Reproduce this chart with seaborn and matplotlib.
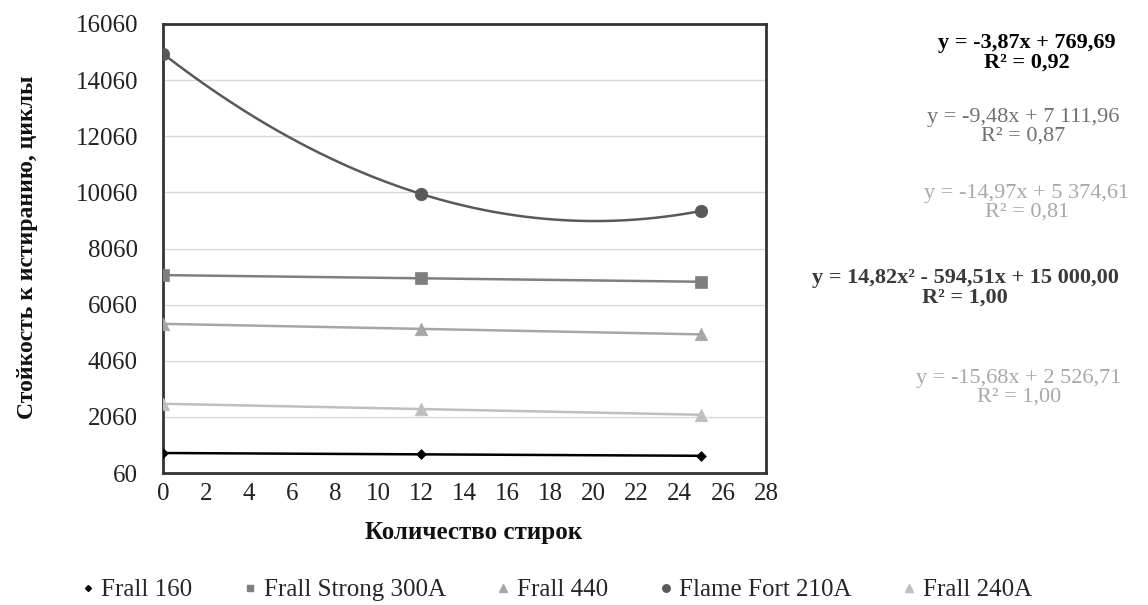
import numpy as np
import pandas as pd
import matplotlib
matplotlib.use("Agg")
import matplotlib.pyplot as plt
from matplotlib.lines import Line2D
import seaborn as sns

# Measured abrasion resistance (cycles) after a number of washes
washes = [0, 12, 25]
frall_160 = [775, 720, 675]
frall_strong_300a = [7112, 6998, 6875]
frall_440 = [5375, 5195, 5000]
flame_fort_210a = [15000, 10000, 9400]
frall_240a = [2527, 2338, 2135]

series_names = ["Frall 160", "Frall Strong 300A", "Frall 440", "Flame Fort 210A", "Frall 240A"]
series_values = [frall_160, frall_strong_300a, frall_440, flame_fort_210a, frall_240a]
series_colors = ["#000000", "#7f7f7f", "#a6a6a6", "#595959", "#bfbfbf"]
series_markers = ["D", "s", "^", "o", "^"]
marker_sizes = [5, 8, 9, 9, 9]
trend_degree = [1, 1, 1, 2, 1]

trend_labels = [
    "y = -3,87x + 769,69\nR² = 0,92",
    "y = -9,48x + 7 111,96\nR² = 0,87",
    "y = -14,97x + 5 374,61\nR² = 0,81",
    "y = 14,82x² - 594,51x + 15 000,00\nR² = 1,00",
    "y = -15,68x + 2 526,71\nR² = 1,00",
]
label_colors = ["#000000", "#707070", "#a8a8a8", "#3a3a3a", "#a8a8a8"]
label_weights = ["bold", "normal", "normal", "bold", "normal"]
label_pos = [(1027, 53), (1023, 127), (1027, 203), (965, 288), (1019, 388)]

x_ticks = list(range(0, 29, 2))
y_ticks = list(range(60, 16061, 2000))

sns.set_style("white")
plt.rcParams["font.family"] = ["Liberation Serif", "DejaVu Serif"]

W, H = 1148, 605
fig = plt.figure(figsize=(W / 100, H / 100), dpi=100)
ax = fig.add_axes([163 / W, 1 - 473 / H, (766 - 163) / W, (473 - 24) / H])

rows = []
for name, vals in zip(series_names, series_values):
    for x, y in zip(washes, vals):
        rows.append({"washes": x, "value": y, "series": name})
df = pd.DataFrame(rows)

# trend curves fitted to each series
for name, vals, col, deg in zip(series_names, series_values, series_colors, trend_degree):
    coef = np.polyfit(washes, vals, deg)
    xs = np.linspace(washes[0], washes[-1], 200)
    tdf = pd.DataFrame({"x": xs, "y": np.polyval(coef, xs)})
    sns.lineplot(data=tdf, x="x", y="y", ax=ax, color=col, linewidth=1.8, legend=False)

# measured points
for name, col, mk, ms in zip(series_names, series_colors, series_markers, marker_sizes):
    sub = df[df["series"] == name]
    sns.scatterplot(data=sub, x="washes", y="value", ax=ax, color=col, marker=mk,
                    s=ms ** 2, edgecolor=col, linewidth=0.5, legend=False, zorder=5)

ax.set_xlim(0, 28)
ax.set_ylim(60, 16060)
ax.set_xticks(x_ticks)
ax.set_yticks(y_ticks)
ax.set_xticklabels([str(t) for t in x_ticks], fontsize=18)
ax.set_yticklabels([str(t) for t in y_ticks], fontsize=18)
ax.tick_params(axis="x", length=0, pad=7, colors="#222222")
ax.tick_params(axis="y", length=0, pad=18, colors="#222222")
ax.grid(axis="y", color="#d9d9d9", linewidth=1)
ax.set_axisbelow(True)
for sp in ax.spines.values():
    sp.set_visible(True)
    sp.set_color("#333333")
    sp.set_linewidth(2)

ax.set_xlabel("")
ax.set_ylabel("")
fig.text(474 / W, 1 - 532 / H, "Количество стирок", fontsize=18, fontweight="bold",
         ha="center", va="center", color="#111111")
fig.text(28 / W, 1 - 247 / H, "Стойкость к истиранию, циклы", fontsize=17,
         fontweight="bold", rotation=90, ha="center", va="center", color="#111111")

for txt, col, wt, (px, py) in zip(trend_labels, label_colors, label_weights, label_pos):
    fig.text(px / W, 1 - py / H, txt, fontsize=16, color=col, fontweight=wt,
             ha="center", va="center", linespacing=1.0)

handles = [Line2D([], [], linestyle="none", marker=mk, color=col, markersize=ms * 0.6)
           for col, mk, ms in zip(series_colors, series_markers, marker_sizes)]
fig.legend(handles, series_names, loc="center", bbox_to_anchor=(555 / W, 1 - 590 / H),
           ncol=5, frameon=False, fontsize=18, handletextpad=0.15, columnspacing=1.9,
           handlelength=0.8)

fig.savefig("out.png", dpi=100)
